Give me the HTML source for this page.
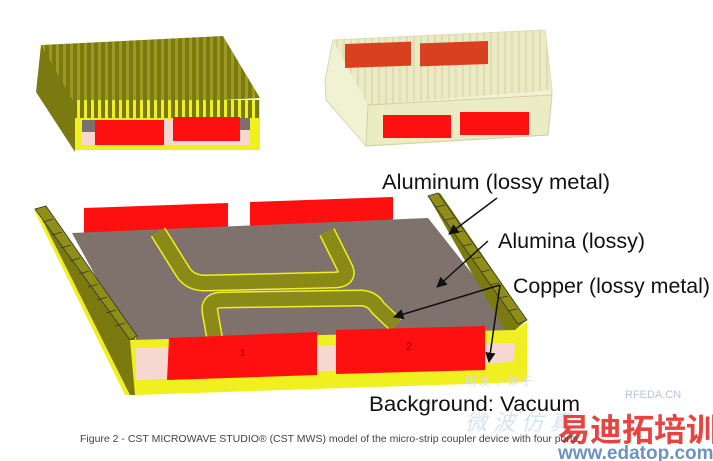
<!DOCTYPE html>
<html><head><meta charset="utf-8"><style>
html,body{margin:0;padding:0;background:#fff;width:713px;height:461px;overflow:hidden}
svg{display:block}
text{font-family:"Liberation Sans","Noto Sans CJK SC",sans-serif}
</style></head><body>
<svg width="713" height="461" viewBox="0 0 713 461" xmlns="http://www.w3.org/2000/svg">
<defs>
<pattern id="fins" width="7" height="10" patternUnits="userSpaceOnUse">
<rect width="7" height="10" fill="#7a7a10"/><rect width="3" height="10" fill="#9a9a20"/>
</pattern>
<pattern id="finsy" width="7" height="10" patternUnits="userSpaceOnUse">
<rect width="7" height="10" fill="#7a7a10"/><rect width="3" height="10" fill="#f0f020"/>
</pattern>
<pattern id="finsp" width="7" height="10" patternUnits="userSpaceOnUse">
<rect width="7" height="10" fill="#e8e8c0"/><rect width="2" height="10" fill="#d8d8a8"/>
</pattern>
<marker id="ah" viewBox="0 0 10 10" refX="9" refY="5" markerWidth="7" markerHeight="7" orient="auto"><path d="M0,0 L10,5 L0,10 z" fill="#111"/></marker>
</defs>

<!-- top-left box -->
<polygon points="41,45 223,36 260,98 76,108" fill="url(#fins)"/>
<polygon points="41,45 76,106 75,152 36,92" fill="#7a7a10"/>
<rect x="75" y="100" width="185" height="50" fill="#f0f020"/>
<rect x="75" y="100" width="185" height="18" fill="url(#finsy)"/>
<rect x="82" y="120" width="168" height="25" fill="#f6d8d0"/>
<rect x="82" y="120" width="13" height="12" fill="#7a7070"/>
<rect x="240" y="118" width="10" height="12" fill="#7a7070"/>
<rect x="95" y="120" width="69" height="25" fill="#ff1010"/>
<rect x="173" y="117" width="67" height="24" fill="#ff1010"/>

<!-- top-right translucent box -->
<polygon points="333,40 545,30 552,90 548,135 366,146 326,100 325,80" fill="#f1f1d4" stroke="#d8d8b0"/>
<polygon points="333,40 545,30 552,90 368,105" fill="url(#finsp)" opacity="0.8"/>
<rect x="345" y="56" width="66" height="24" fill="#d84020" transform="skewY(-2)"/>
<rect x="420" y="58" width="68" height="23" fill="#d84020" transform="skewY(-2)"/>
<polygon points="368,105 552,95 548,135 366,146" fill="#ececc4" stroke="#d0d0a0"/>
<rect x="383" y="115" width="68" height="23" fill="#ff1010"/>
<rect x="460" y="112" width="69" height="23" fill="#ff1010"/>

<!-- bottom main device -->
<polygon points="84,208 228,203 228,230 84,235" fill="#ff1010"/>
<polygon points="250,202 393,197 393,222 250,227" fill="#ff1010"/>
<polygon points="72,233 428,218 517,330 515,348 136,350" fill="#7f716c"/>
<polygon points="428,196 440,193 527,320 515,330 513,345" fill="#7a7a10"/>
<polygon points="428,196 438,193 527,320 518,324" fill="#8f8f18" stroke="#333" stroke-width="0.8"/>
<g stroke="#333" stroke-width="0.7">
<line x1="436" y1="207" x2="445" y2="205"/><line x1="445" y1="220" x2="454" y2="218"/><line x1="454" y1="233" x2="463" y2="231"/><line x1="463" y1="246" x2="472" y2="244"/><line x1="472" y1="259" x2="481" y2="257"/><line x1="481" y1="272" x2="490" y2="270"/><line x1="490" y1="285" x2="499" y2="283"/><line x1="499" y1="298" x2="508" y2="296"/><line x1="508" y1="311" x2="517" y2="309"/>
</g>
<polygon points="34,210 46,207 136,338 136,395 125,395" fill="#f0f020"/>
<polygon points="44,208 136,340 136,395 130,395 40,215" fill="#7a7a10"/>
<polygon points="35,209 46,206 137,336 130,340" fill="#8f8f18" stroke="#333" stroke-width="0.8"/>
<g stroke="#333" stroke-width="0.7">
<line x1="43" y1="222" x2="53" y2="219"/><line x1="52" y1="235" x2="62" y2="232"/><line x1="61" y1="248" x2="71" y2="245"/><line x1="70" y1="261" x2="80" y2="258"/><line x1="79" y1="274" x2="89" y2="271"/><line x1="88" y1="287" x2="98" y2="284"/><line x1="97" y1="300" x2="107" y2="297"/><line x1="106" y1="313" x2="116" y2="310"/><line x1="115" y1="326" x2="125" y2="323"/>
</g>
<g fill="none" stroke-linecap="butt">
<path d="M158,232 L183,272 Q190,283 205,283 L335,280 Q350,279 345,268 L327,232" stroke="#f0f020" stroke-width="17"/>
<path d="M158,232 L183,272 Q190,283 205,283 L335,280 Q350,279 345,268 L327,232" stroke="#8a8a18" stroke-width="14"/>
<path d="M215,340 L210,312 Q208,300 222,300 L360,298 Q372,298 378,308 L396,325" stroke="#f0f020" stroke-width="17"/>
<path d="M215,340 L210,312 Q208,300 222,300 L360,298 Q372,298 378,308 L396,325" stroke="#8a8a18" stroke-width="14"/>
</g>
<polygon points="130,340 515,330 527,322 527,382 135,395" fill="#f0f020"/>
<polygon points="136,348 515,343 514,362 136,380" fill="#f6d8d0"/>
<polygon points="169,338 317,332 317,375 167,380" fill="#ff1010"/>
<polygon points="336,330 485,326 485,370 336,374" fill="#ff1010"/>
<text x="240" y="356" font-size="10" fill="#a00">1</text>
<text x="406" y="350" font-size="11" fill="#a00">2</text>

<!-- watermark -->
<text x="465" y="385" font-size="11" fill="#d8dde8">明 友 卜 体 于</text>
<text x="625" y="398" font-size="11" fill="#b8c4dc">RFEDA.CN</text>
<text x="465" y="430" font-size="22" fill="#d6e4f0" font-style="italic">微 波 仿 真</text>
<text x="558" y="441" font-size="32" font-weight="bold" fill="#e4302c" fill-opacity="0.9" font-family="Noto Sans CJK SC, sans-serif">易迪拓培训</text>
<text x="558" y="459" font-size="19" font-weight="bold" fill="#4a78b0" fill-opacity="0.8">www.edatop.com</text>

<!-- labels -->
<g fill="#111" font-size="21">
<text x="382" y="189" textLength="228" lengthAdjust="spacingAndGlyphs">Aluminum (lossy metal)</text>
<text x="498" y="248" textLength="147" lengthAdjust="spacingAndGlyphs">Alumina (lossy)</text>
<text x="513" y="293" textLength="197" lengthAdjust="spacingAndGlyphs">Copper (lossy metal)</text>
<text x="369" y="411" textLength="211" lengthAdjust="spacingAndGlyphs">Background: Vacuum</text>
</g>
<text x="80" y="442" font-size="10.5" fill="#444">Figure 2 - CST MICROWAVE STUDIO® (CST MWS) model of the micro-strip coupler device with four ports.</text>

<g stroke="#111" stroke-width="1.5" marker-end="url(#ah)">
<line x1="497" y1="198" x2="449" y2="234"/>
<line x1="488" y1="241" x2="437" y2="287"/>
<line x1="500" y1="285" x2="394" y2="317"/>
<line x1="500" y1="285" x2="489" y2="362"/>
</g>
</svg>
</body></html>
